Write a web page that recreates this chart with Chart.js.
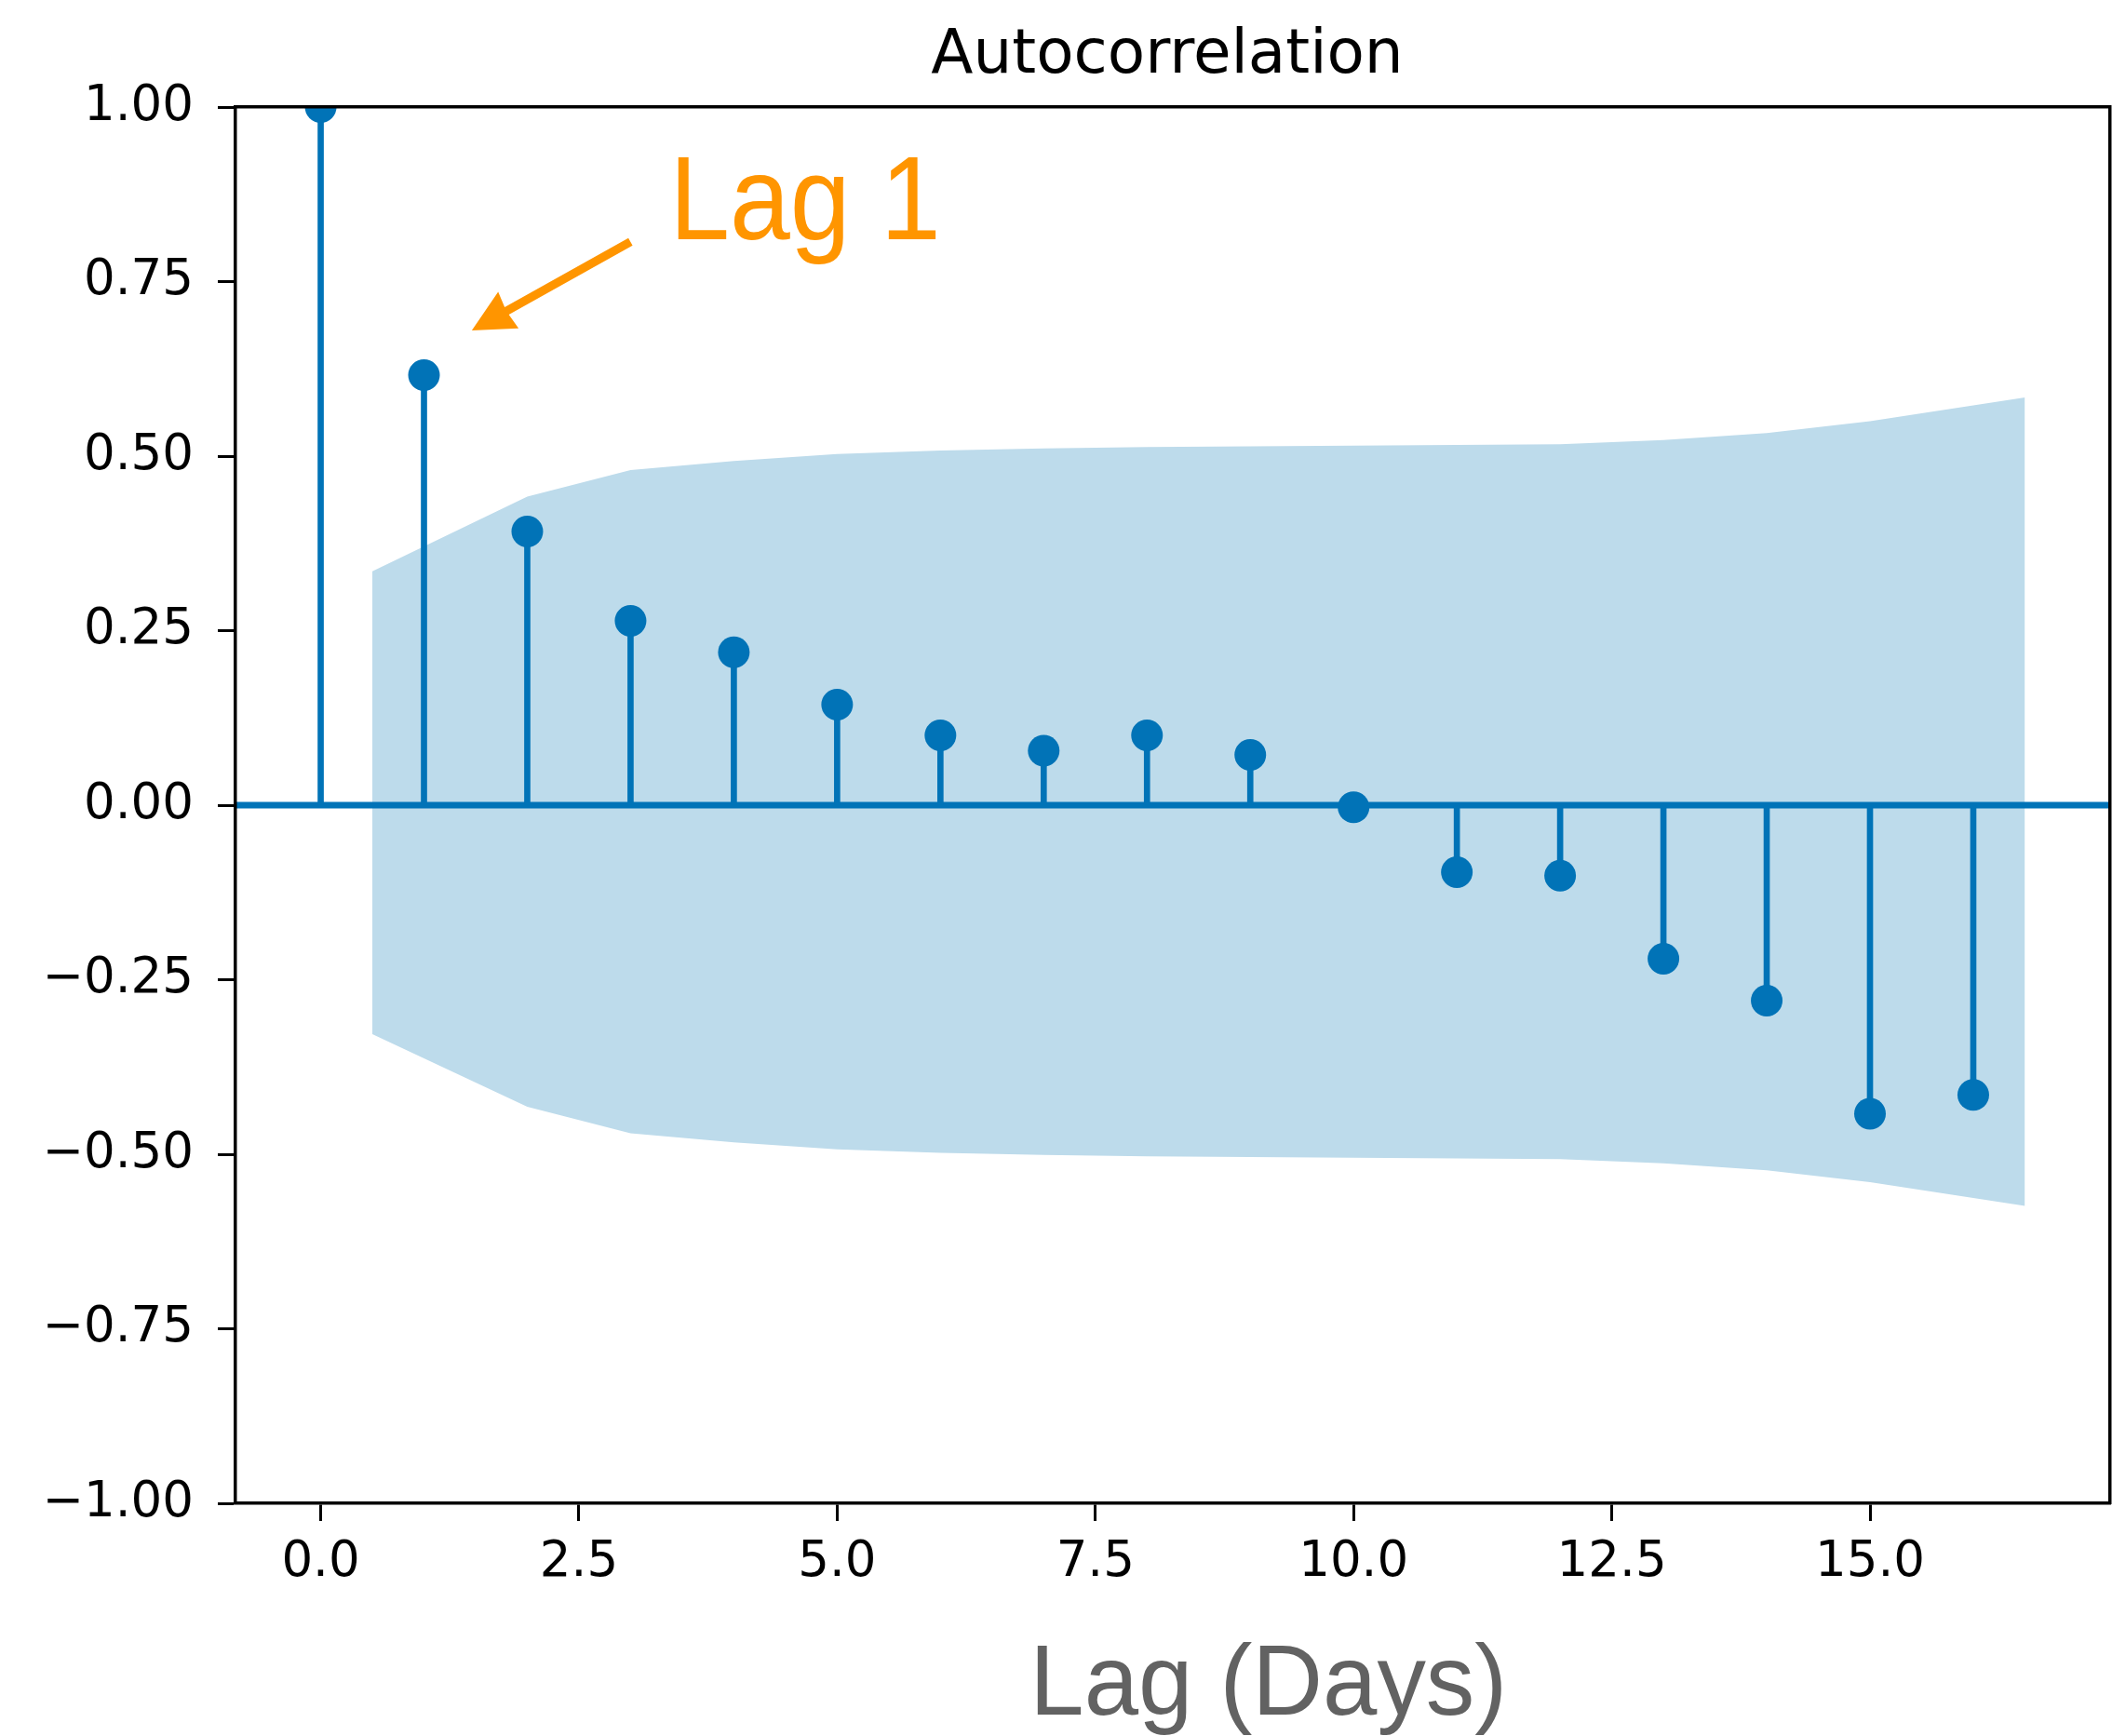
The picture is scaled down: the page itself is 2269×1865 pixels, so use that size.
<!DOCTYPE html>
<html>
<head>
<meta charset="utf-8">
<title>Autocorrelation</title>
<script src="https://cdn.jsdelivr.net/npm/chart.js@4.4.1/dist/chart.umd.min.js"></script>
<style>
  html, body { margin: 0; padding: 0; background: #ffffff; }
  #wrap { width: 2269px; height: 1865px; position: relative; }
  canvas { display: block; }
</style>
</head>
<body>
<div id="wrap"><canvas id="acf" width="2269" height="1865"></canvas></div>
<script>
// Autocorrelation by lag (days)
const lags = [0, 1, 2, 3, 4, 5, 6, 7, 8, 9, 10, 11, 12, 13, 14, 15, 16];
const acfValues = [1.000, 0.616, 0.392, 0.264, 0.219, 0.144, 0.100, 0.078, 0.100, 0.072,
                   -0.003, -0.096, -0.101, -0.220, -0.280, -0.442, -0.415];

// Confidence band (edges stretched half a lag at both ends)
const bandLags  = [0.5, 2, 3, 4, 5, 6, 7, 8, 9, 10, 11, 12, 13, 14, 15, 16.5];
const bandUpper = [0.335, 0.442, 0.480, 0.493, 0.503, 0.508, 0.511, 0.513, 0.514, 0.515,
                   0.516, 0.517, 0.523, 0.533, 0.550, 0.584];
const bandLower = [-0.328, -0.432, -0.470, -0.483, -0.493, -0.498, -0.501, -0.503, -0.504, -0.505,
                   -0.506, -0.507, -0.513, -0.523, -0.540, -0.574];

// Axes
const xTicks = [0, 2.5, 5, 7.5, 10, 12.5, 15];
const yTicks = [-1, -0.75, -0.5, -0.25, 0, 0.25, 0.5, 0.75, 1];
const xRange = [-0.825, 17.325];
const yRange = [-1, 1];

// Callout pointing at lag 1 (data units)
const calloutText = 'Lag 1';
const calloutTextPos = [3.368, 0.811];
const calloutArrowFrom = [2.999, 0.807];
const calloutArrowTo = [1.463, 0.680];

const STEM = '#0173b7';
const BAND = '#bddbeb';
const ORANGE = '#ff9500';
const TICK_FONT = { family: 'DejaVu Sans', size: 53 };

const fmt = (v, d) => (v < -1e-9 ? '\u2212' : '') + Math.abs(v).toFixed(d);

const axisLine = { display: true, color: '#000000', width: 3.5, z: 1 };
const tickMarks = { offset: false, drawOnChartArea: false, drawTicks: true, tickLength: 19, tickWidth: 3, tickColor: '#000000' };

// Title, x-axis caption and the orange callout
const annotations = {
  id: 'acfAnnotations',
  afterDraw(chart) {
    const { ctx, chartArea, scales } = chart;
    const xs = scales.x, ys = scales.y;
    ctx.save();

    // Title
    ctx.fillStyle = '#000000';
    ctx.font = '66px "DejaVu Sans"';
    ctx.textAlign = 'center';
    ctx.textBaseline = 'alphabetic';
    ctx.fillText('Autocorrelation', (chartArea.left + chartArea.right) / 2 - 6, chartArea.top - 37);

    // X-axis caption
    ctx.fillStyle = '#626262';
    ctx.font = '107px "Liberation Sans"';
    ctx.textAlign = 'left';
    const capX = chartArea.left + 0.4237 * (chartArea.right - chartArea.left);
    ctx.save();
    ctx.translate(capX, 1842);
    ctx.scale(0.98, 1);
    ctx.fillText('Lag (Days)', 0, 0);
    ctx.restore();

    // Callout label
    ctx.fillStyle = ORANGE;
    ctx.font = '128px "Liberation Sans"';
    ctx.save();
    ctx.translate(xs.getPixelForValue(calloutTextPos[0]) + 1, ys.getPixelForValue(calloutTextPos[1]));
    ctx.scale(0.91, 1);
    ctx.fillText(calloutText, 0, 0);
    ctx.restore();

    // Callout arrow
    const x0 = xs.getPixelForValue(calloutArrowFrom[0]), y0 = ys.getPixelForValue(calloutArrowFrom[1]);
    const x1 = xs.getPixelForValue(calloutArrowTo[0]), y1 = ys.getPixelForValue(calloutArrowTo[1]);
    const len = Math.hypot(x1 - x0, y1 - y0);
    const ux = (x1 - x0) / len, uy = (y1 - y0) / len;
    const px = -uy, py = ux;
    const headLen = 45, headHalf = 22.5, shaftHalf = 4.6;
    const bx = x1 - ux * headLen, by = y1 - uy * headLen;
    ctx.fillStyle = ORANGE;
    ctx.beginPath();
    ctx.moveTo(x0 + px * shaftHalf, y0 + py * shaftHalf);
    ctx.lineTo(bx + px * shaftHalf + ux * 2, by + py * shaftHalf + uy * 2);
    ctx.lineTo(bx + px * headHalf, by + py * headHalf);
    ctx.lineTo(x1, y1);
    ctx.lineTo(bx - px * headHalf, by - py * headHalf);
    ctx.lineTo(bx - px * shaftHalf + ux * 2, by - py * shaftHalf + uy * 2);
    ctx.lineTo(x0 - px * shaftHalf, y0 - py * shaftHalf);
    ctx.closePath();
    ctx.fill();

    ctx.restore();
  }
};

new Chart(document.getElementById('acf'), {
  type: 'scatter',
  data: {
    datasets: [
      {
        type: 'line', label: 'upper',
        data: bandLags.map((x, i) => ({ x, y: bandUpper[i] })),
        fill: '+1', backgroundColor: BAND, borderColor: 'rgba(0,0,0,0)', borderWidth: 0,
        pointRadius: 0, tension: 0, order: 5, clip: 0, xAxisID: 'x', yAxisID: 'y'
      },
      {
        type: 'line', label: 'lower',
        data: bandLags.map((x, i) => ({ x, y: bandLower[i] })),
        fill: false, borderColor: 'rgba(0,0,0,0)', borderWidth: 0,
        pointRadius: 0, tension: 0, order: 5, clip: 0, xAxisID: 'x', yAxisID: 'y'
      },
      {
        type: 'line', label: 'zero',
        data: [{ x: xRange[0], y: 0 }, { x: xRange[1], y: 0 }],
        borderColor: STEM, borderWidth: 7, pointRadius: 0, fill: false,
        order: 3, clip: 0, xAxisID: 'x', yAxisID: 'y'
      },
      {
        type: 'bar', label: 'stems',
        data: lags.map((x, i) => ({ x, y: acfValues[i] })),
        backgroundColor: STEM, borderWidth: 0, barThickness: 6,
        order: 2, clip: 0, xAxisID: 'x', yAxisID: 'y'
      },
      {
        type: 'scatter', label: 'acf',
        data: lags.map((x, i) => ({ x, y: acfValues[i] })),
        backgroundColor: STEM, borderWidth: 0, pointRadius: 17, pointHoverRadius: 17,
        order: 1, clip: 0, xAxisID: 'x', yAxisID: 'y'
      }
    ]
  },
  options: {
    responsive: false,
    animation: false,
    devicePixelRatio: 1,
    events: [],
    layout: { autoPadding: false, padding: { top: 115, right: 2, left: 0, bottom: 0 } },
    plugins: { legend: { display: false }, tooltip: { enabled: false }, title: { display: false } },
    scales: {
      x: {
        type: 'linear', position: 'bottom', min: xRange[0], max: xRange[1], offset: false,
        afterBuildTicks: s => { s.ticks = xTicks.map(v => ({ value: v })); },
        afterFit: s => { s.height = 250; },
        ticks: { callback: v => fmt(v, 1), font: TICK_FONT, color: '#000000', padding: 13,
                 maxRotation: 0, autoSkip: false },
        grid: tickMarks, border: axisLine
      },
      y: {
        type: 'linear', position: 'left', min: yRange[0], max: yRange[1],
        afterBuildTicks: s => { s.ticks = yTicks.map(v => ({ value: v })); },
        afterFit: s => { s.width = 253; },
        ticks: { callback: v => fmt(v, 2), font: TICK_FONT, color: '#000000', padding: 26 },
        grid: tickMarks, border: axisLine
      },
      xTop: {
        type: 'linear', position: 'top', min: xRange[0], max: xRange[1], offset: false,
        ticks: { display: false }, grid: { offset: false, drawOnChartArea: false, drawTicks: false },
        border: axisLine, afterFit: s => { s.height = 0; }
      },
      yRight: {
        type: 'linear', position: 'right', min: yRange[0], max: yRange[1],
        ticks: { display: false }, grid: { drawOnChartArea: false, drawTicks: false },
        border: axisLine, afterFit: s => { s.width = 0; }
      }
    }
  },
  plugins: [annotations]
});
</script>
</body>
</html>
